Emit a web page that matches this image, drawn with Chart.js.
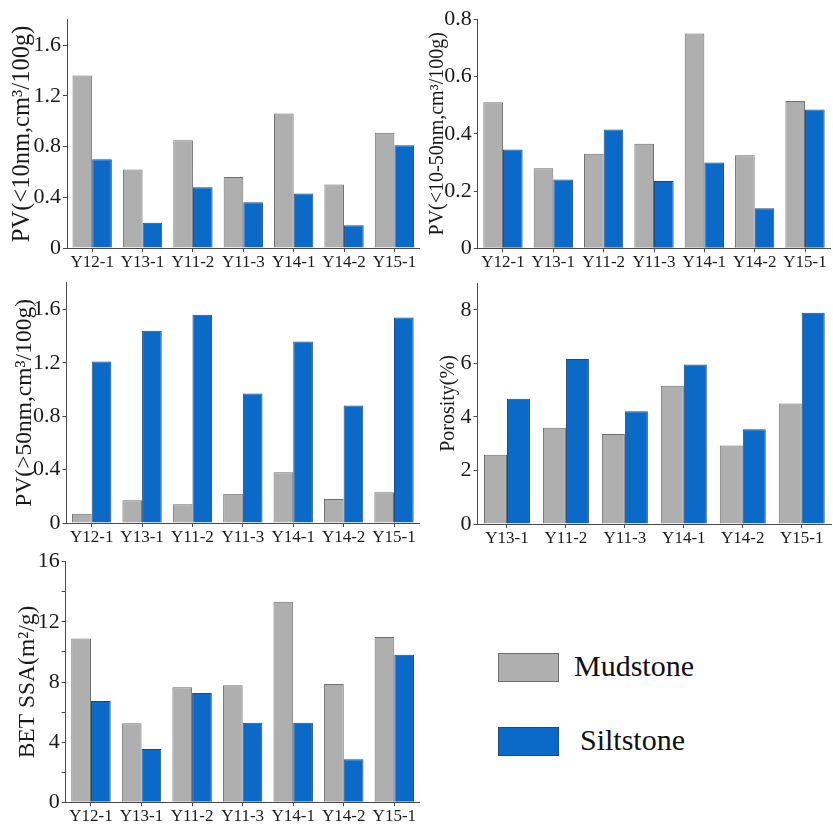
<!DOCTYPE html>
<html>
<head>
<meta charset="utf-8">
<script src="https://cdn.jsdelivr.net/npm/chart.js@4.4.1/dist/chart.umd.min.js"></script>
<style>
  html, body { margin: 0; padding: 0; background: #ffffff; }
  #page { position: relative; width: 833px; height: 825px; overflow: hidden; background: #ffffff; }
  .panel { position: absolute; }
  .legend-item { position: absolute; font-family: "Liberation Serif", "Times New Roman", serif; color: #111; }
  .swatch { position: absolute; box-sizing: border-box; width: 61px; height: 29px; }
  .legend-label { position: absolute; font-size: 30px; line-height: 30px; white-space: nowrap; }
</style>
</head>
<body>
<div id="page"></div>
<script>
// Sample names on the horizontal axes
const samples = ['Y12-1', 'Y13-1', 'Y11-2', 'Y11-3', 'Y14-1', 'Y14-2', 'Y15-1'];
const porositySamples = ['Y13-1', 'Y11-2', 'Y11-3', 'Y14-1', 'Y14-2', 'Y15-1'];

// Pore volume of pores < 10 nm (cm3/100g)
const pvLt10Mud  = [1.36, 0.62, 0.85, 0.56, 1.06, 0.50, 0.91];
const pvLt10Silt = [0.70, 0.20, 0.48, 0.36, 0.43, 0.18, 0.81];

// Pore volume of pores 10-50 nm (cm3/100g)
const pv1050Mud  = [0.51, 0.28, 0.33, 0.365, 0.75, 0.325, 0.515];
const pv1050Silt = [0.345, 0.24, 0.415, 0.235, 0.30, 0.14, 0.485];

// Pore volume of pores > 50 nm (cm3/100g)
const pvGt50Mud  = [0.07, 0.17, 0.14, 0.22, 0.38, 0.18, 0.23];
const pvGt50Silt = [1.21, 1.44, 1.56, 0.97, 1.36, 0.88, 1.54];

// Porosity (%)
const porosityMud  = [2.59, 3.59, 3.36, 5.16, 2.93, 4.50];
const porositySilt = [4.68, 6.16, 4.21, 5.96, 3.54, 7.89];

// BET specific surface area (m2/g)
const bssaMud  = [10.9, 5.25, 7.65, 7.78, 13.34, 7.87, 10.99];
const bssaSilt = [6.74, 3.54, 7.27, 5.29, 5.29, 2.86, 9.81];

const seriesNames = ['Mudstone', 'Siltstone'];

const GRAY = '#afafaf';
const GRAY_EDGE = '#6e6e6e';
const BLUE = '#0b6ac8';
const BLUE_EDGE = '#1d4a7e';
const AXIS = '#4a4a4a';
const TEXT = '#1a1a1a';
const SERIF = '"Liberation Serif", "Times New Roman", serif';

const page = document.getElementById('page');

// Formats only the major ticks; minor ticks keep their tick mark but no label
function majorLabel(major, decimals) {
  return function (value) {
    const r = value / major;
    if (Math.abs(r - Math.round(r)) > 1e-6) return '';
    if (Math.abs(value) < 1e-9) return '0';
    return Number(value).toFixed(decimals);
  };
}

function makePanel(p) {
  const box = document.createElement('div');
  box.className = 'panel';
  box.style.left = p.left + 'px';
  box.style.top = p.top + 'px';
  const canvas = document.createElement('canvas');
  canvas.width = p.width;
  canvas.height = p.height;
  canvas.style.width = p.width + 'px';
  canvas.style.height = p.height + 'px';
  box.appendChild(canvas);
  page.appendChild(box);

  const yWidth = p.areaLeft - p.left;
  const xHeight = p.top + p.height - p.areaBottom;

  new Chart(canvas, {
    type: 'bar',
    data: {
      labels: p.labels,
      datasets: [
        { label: seriesNames[0], data: p.mud, backgroundColor: GRAY, borderColor: GRAY_EDGE, borderWidth: 1 },
        { label: seriesNames[1], data: p.silt, backgroundColor: BLUE, borderColor: BLUE_EDGE, borderWidth: 1 }
      ]
    },
    options: {
      responsive: false,
      maintainAspectRatio: false,
      animation: false,
      devicePixelRatio: 1,
      layout: {
        padding: { left: 0, top: p.areaTop - p.top, right: p.left + p.width - p.areaRight, bottom: 0 }
      },
      plugins: { legend: { display: false }, tooltip: { enabled: false } },
      datasets: { bar: { categoryPercentage: 0.78, barPercentage: 1 } },
      scales: {
        x: {
          offset: true,
          grid: { offset: false, drawOnChartArea: false, drawTicks: true, tickLength: 4, color: AXIS, lineWidth: 1 },
          border: { display: true, color: AXIS, width: 1 },
          ticks: { color: TEXT, font: { family: SERIF, size: 17 }, padding: 0, maxRotation: 0, autoSkip: false },
          afterFit(s) { s.height = xHeight; s.paddingLeft = 0; s.paddingRight = 0; }
        },
        y: {
          min: 0,
          max: p.max,
          grid: { drawOnChartArea: false, drawTicks: true, tickLength: 4, color: AXIS, lineWidth: 1 },
          border: { display: true, color: AXIS, width: 1 },
          ticks: {
            stepSize: p.minor,
            color: TEXT,
            font: { family: SERIF, size: 22 },
            padding: 2,
            callback: majorLabel(p.major, p.decimals)
          },
          title: {
            display: true,
            text: p.title,
            color: TEXT,
            font: { family: SERIF, size: p.titleSize },
            padding: { top: p.titleX - p.titleSize * 0.6, bottom: 0 }
          },
          afterFit(s) { s.width = yWidth; s.paddingTop = 0; s.paddingBottom = 0; }
        }
      }
    }
  });
}

// Upper left: pores < 10 nm
makePanel({
  left: 0, top: 0, width: 425, height: 278,
  areaLeft: 67, areaRight: 419.6, areaTop: 19.8, areaBottom: 248,
  labels: samples, mud: pvLt10Mud, silt: pvLt10Silt,
  max: 1.8, minor: 0.2, major: 0.4, decimals: 1,
  title: 'PV(<10nm,cm³/100g)', titleSize: 24.5, titleX: 23
});

// Upper right: pores 10-50 nm
makePanel({
  left: 425, top: 0, width: 408, height: 278,
  areaLeft: 477.8, areaRight: 830.2, areaTop: 19.3, areaBottom: 248.3,
  labels: samples, mud: pv1050Mud, silt: pv1050Silt,
  max: 0.8, minor: 0.1, major: 0.2, decimals: 1,
  title: 'PV(<10-50nm,cm³/100g)', titleSize: 20, titleX: 13
});

// Middle left: pores > 50 nm
makePanel({
  left: 0, top: 278, width: 425, height: 268,
  areaLeft: 66.5, areaRight: 419.2, areaTop: 282.7, areaBottom: 523,
  labels: samples, mud: pvGt50Mud, silt: pvGt50Silt,
  max: 1.8, minor: 0.2, major: 0.4, decimals: 1,
  title: 'PV(>50nm,cm³/100g)', titleSize: 23.5, titleX: 25
});

// Middle right: porosity
makePanel({
  left: 425, top: 278, width: 408, height: 268,
  areaLeft: 477.5, areaRight: 831.2, areaTop: 283, areaBottom: 524,
  labels: porositySamples, mud: porosityMud, silt: porositySilt,
  max: 9, minor: 1, major: 2, decimals: 0,
  title: 'Porosity(%)', titleSize: 20, titleX: 24
});

// Lower left: BET specific surface area
makePanel({
  left: 0, top: 546, width: 425, height: 279,
  areaLeft: 65.7, areaRight: 419.6, areaTop: 561.7, areaBottom: 802.3,
  labels: samples, mud: bssaMud, silt: bssaSilt,
  max: 16, minor: 2, major: 4, decimals: 0,
  title: 'BET SSA(m²/g)', titleSize: 23.5, titleX: 28
});

// Shared legend for the two lithologies
const legendEntries = [
  { name: seriesNames[0], fill: GRAY, edge: GRAY_EDGE, top: 652.5, textLeft: 574 },
  { name: seriesNames[1], fill: BLUE, edge: BLUE_EDGE, top: 727, textLeft: 580 }
];
legendEntries.forEach(function (e) {
  const sw = document.createElement('div');
  sw.className = 'swatch';
  sw.style.left = '497.5px';
  sw.style.top = e.top + 'px';
  sw.style.background = e.fill;
  sw.style.border = '1px solid ' + e.edge;
  page.appendChild(sw);
  const tx = document.createElement('div');
  tx.className = 'legend-item legend-label';
  tx.style.left = e.textLeft + 'px';
  tx.style.top = (e.top - 2) + 'px';
  tx.textContent = e.name;
  page.appendChild(tx);
});
</script>
</body>
</html>
